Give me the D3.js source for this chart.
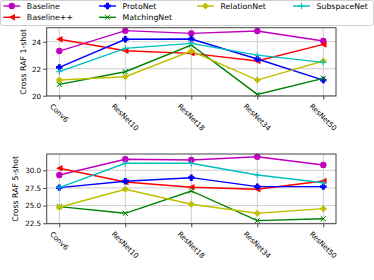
<!DOCTYPE html>
<html><head><meta charset="utf-8">
<script src="https://cdn.jsdelivr.net/npm/d3@7"></script>
<style>body{margin:0;background:#fff}svg{display:block;font-family:"DejaVu Sans",sans-serif}</style>
</head><body>
<svg id="c" width="374" height="280"></svg>
<script>
const categories = ["Conv6","ResNet10","ResNet18","ResNet34","ResNet50"];
const seriesNames = ["Baseline","Baseline++","ProtoNet","MatchingNet","RelationNet","SubspaceNet"];
const seriesColors = ["#bf00bf","#ff0000","#0000ff","#008000","#bfbf00","#00bfbf"];
const seriesMarkers = ["circle","triangleLeft","plusFilled","x","diamond","plus"];
const oneShot = [
  [23.31,24.82,24.62,24.79,24.05],
  [24.18,23.33,23.14,22.57,23.80],
  [22.10,24.18,24.20,22.72,21.16],
  [20.84,21.78,23.76,20.10,21.29],
  [21.16,21.41,23.31,21.16,22.57],
  [21.78,23.51,23.88,23.01,22.47]
];
const fiveShot = [
  [29.33,31.55,31.45,31.92,30.75],
  [30.28,28.34,27.59,27.31,28.48],
  [27.54,28.44,28.95,27.68,27.68],
  [24.85,23.91,27.07,22.87,23.15],
  [24.76,27.31,25.19,23.91,24.57],
  [27.54,30.99,30.99,29.33,28.24]
];
const ticks1 = [20,22,24];
const ticks5 = [22.5,25.0,27.5,30.0];

const svg = d3.select("#c");
const fs = 7.2;

function marker(g, type, x, y, color) {
  const s = 3.2;
  if (type === "circle") g.append("circle").attr("cx",x).attr("cy",y).attr("r",s).attr("fill",color);
  else if (type === "triangleLeft") g.append("path").attr("d",`M${x-s},${y} L${x+s},${y-s} L${x+s},${y+s} Z`).attr("fill",color);
  else if (type === "diamond") g.append("path").attr("d",`M${x},${y-s*1.1} L${x+s*1.1},${y} L${x},${y+s*1.1} L${x-s*1.1},${y} Z`).attr("fill",color);
  else if (type === "plusFilled") {
    const a = s, b = s*0.45;
    g.append("path").attr("d",`M${x-b},${y-a} H${x+b} V${y-b} H${x+a} V${y+b} H${x+b} V${y+a} H${x-b} V${y+b} H${x-a} V${y-b} H${x-b} Z`).attr("fill",color);
  }
  else if (type === "x") g.append("path").attr("d",`M${x-2.6},${y-2.6} L${x+2.6},${y+2.6} M${x-2.6},${y+2.6} L${x+2.6},${y-2.6}`).attr("stroke",color).attr("stroke-width",1);
  else if (type === "plus") g.append("path").attr("d",`M${x-3.2},${y} H${x+3.2} M${x},${y-3.2} V${y+3.2}`).attr("stroke",color).attr("stroke-width",1);
}

function panel(data, ticks, top, bottom, domain, label, labelX, fmt) {
  const left = 46.7, right = 336;
  const x = d3.scalePoint().domain(categories).range([59.3, 323.3]);
  const y = d3.scaleLinear().domain(domain).range([bottom, top]);
  const g = svg.append("g");
  g.selectAll(".gx").data(categories).enter().append("line")
    .attr("x1",d=>x(d)).attr("x2",d=>x(d)).attr("y1",top).attr("y2",bottom)
    .attr("stroke","#cfcfcf").attr("stroke-width",1);
  g.selectAll(".gy").data(ticks).enter().append("line")
    .attr("x1",left).attr("x2",right).attr("y1",d=>y(d)).attr("y2",d=>y(d))
    .attr("stroke","#cfcfcf").attr("stroke-width",1);
  data.forEach((vals, i) => {
    const line = d3.line().x((d,j)=>x(categories[j])).y(d=>y(d));
    g.append("path").attr("d",line(vals)).attr("fill","none").attr("stroke",seriesColors[i]).attr("stroke-width",1.4);
    vals.forEach((v,j)=>marker(g, seriesMarkers[i], x(categories[j]), y(v), seriesColors[i]));
  });
  g.append("rect").attr("x",left).attr("y",top).attr("width",right-left).attr("height",bottom-top)
    .attr("fill","none").attr("stroke","#444").attr("stroke-width",1);
  const ya = d3.axisLeft(y).tickValues(ticks).tickSize(3.5).tickPadding(2).tickFormat(fmt);
  const yg = g.append("g").attr("transform",`translate(${left},0)`).call(ya);
  yg.select(".domain").remove();
  yg.selectAll("line").attr("stroke","#444");
  yg.selectAll("text").attr("font-size",fs).attr("font-family","DejaVu Sans").attr("fill","#000");
  const xa = d3.axisBottom(x).tickSize(3.5).tickFormat("");
  const xg = g.append("g").attr("transform",`translate(0,${bottom})`).call(xa);
  xg.select(".domain").remove();
  xg.selectAll("line").attr("stroke","#444");
  categories.forEach(c => {
    const t = g.append("text").text(c).attr("font-size",fs).attr("text-anchor","middle")
      .attr("dominant-baseline","central");
    const w = t.node().getComputedTextLength();
    const h = fs*0.75;
    const half = (w + h) / (2*Math.SQRT2);
    const cx = x(c), cy = bottom + 7 + half;
    t.attr("transform",`translate(${cx},${cy}) rotate(45)`);
  });
  g.append("text").text(label).attr("font-size",7.8).attr("text-anchor","middle")
    .attr("transform",`translate(${labelX},${(top+bottom)/2}) rotate(-90)`);
}

panel(oneShot, ticks1, 27.7, 96, [19.98, 25.04], "Cross RAF 1-shot", 26, d3.format("d"));
panel(fiveShot, ticks5, 154, 223.7, [22.44, 32.3], "Cross RAF 5-shot", 17.8, d3.format(".1f"));

const lg = svg.append("g");
lg.append("rect").attr("x",0.5).attr("y",0.5).attr("width",373).attr("height",25).attr("rx",2)
  .attr("fill","#fff").attr("fill-opacity",0.8).attr("stroke","#d0d0d0").attr("stroke-width",1);
const legPos = [[3.3,6],[3.3,17.3],[99,6],[99,17.3],[197,6],[293,6]];
seriesNames.forEach((n,i) => {
  const [lx,ly] = legPos[i];
  lg.append("line").attr("x1",lx).attr("x2",lx+17).attr("y1",ly).attr("y2",ly)
    .attr("stroke",seriesColors[i]).attr("stroke-width",1.4);
  marker(lg, seriesMarkers[i], lx+8.5, ly, seriesColors[i]);
  lg.append("text").text(n).attr("x",lx+23.5).attr("y",ly).attr("dominant-baseline","central")
    .attr("font-size",7.8);
});
</script>
</body></html>
